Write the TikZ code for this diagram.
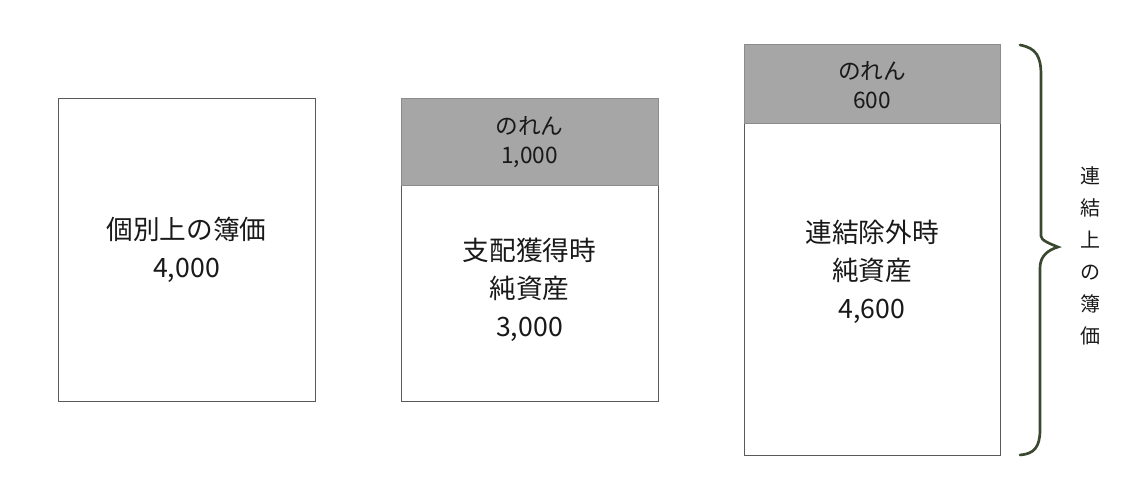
\documentclass[tikz,border=0pt]{standalone}
\usepackage{fontspec}
\setmainfont{Noto Sans CJK JP}
\begin{document}
\begin{tikzpicture}[x=0.75pt,y=-0.75pt,
  body/.style={draw=black!65,line width=0.6pt,fill=white},
  head/.style={draw=black!45,line width=0.6pt,fill=black!35},
  big/.style={font=\fontsize{20}{28.5}\selectfont,align=center,text=black!90},
  small/.style={font=\fontsize{17}{21.75}\selectfont,align=center,text=black!90},
  vt/.style={font=\fontsize{15}{24}\selectfont,align=center,text=black!90}]
\useasboundingbox (0,0) rectangle (1140,500);
% box 1
\draw[body] (58,98) rectangle (315,401);
\node[big] (t1) at (186.5,250) {個別上の簿価\\4,000};
% box 2
\draw[body] (401,185) rectangle (658,401);
\draw[head] (401,98) rectangle (658,185);
\node[small] (h2) at (529.5,142) {のれん\\1,000};
\node[big] (t2) at (529.5,290) {支配獲得時\\純資産\\3,000};
% box 3
\draw[body] (744,123) rectangle (1000,455);
\draw[head] (744,44) rectangle (1000,123);
\node[small] (h3) at (872,85) {のれん\\600};
\node[big] (t3) at (872,272) {連結除外時\\純資産\\4,600};
% brace
\draw[color={rgb,255:red,58;green,72;blue,48},line width=2pt,line cap=round]
  (1020,45) .. controls (1036,48) and (1041,56) .. (1041,75)
  -- (1041,236) .. controls (1041,240) and (1048,243) .. (1058,247)
  .. controls (1048,250) and (1040,256) .. (1040,268)
  -- (1040,430) .. controls (1040,447) and (1034,454) .. (1020,455);
\node[vt] (v) at (1090,256) {連\\結\\上\\の\\簿\\価};
\end{tikzpicture}
\end{document}
